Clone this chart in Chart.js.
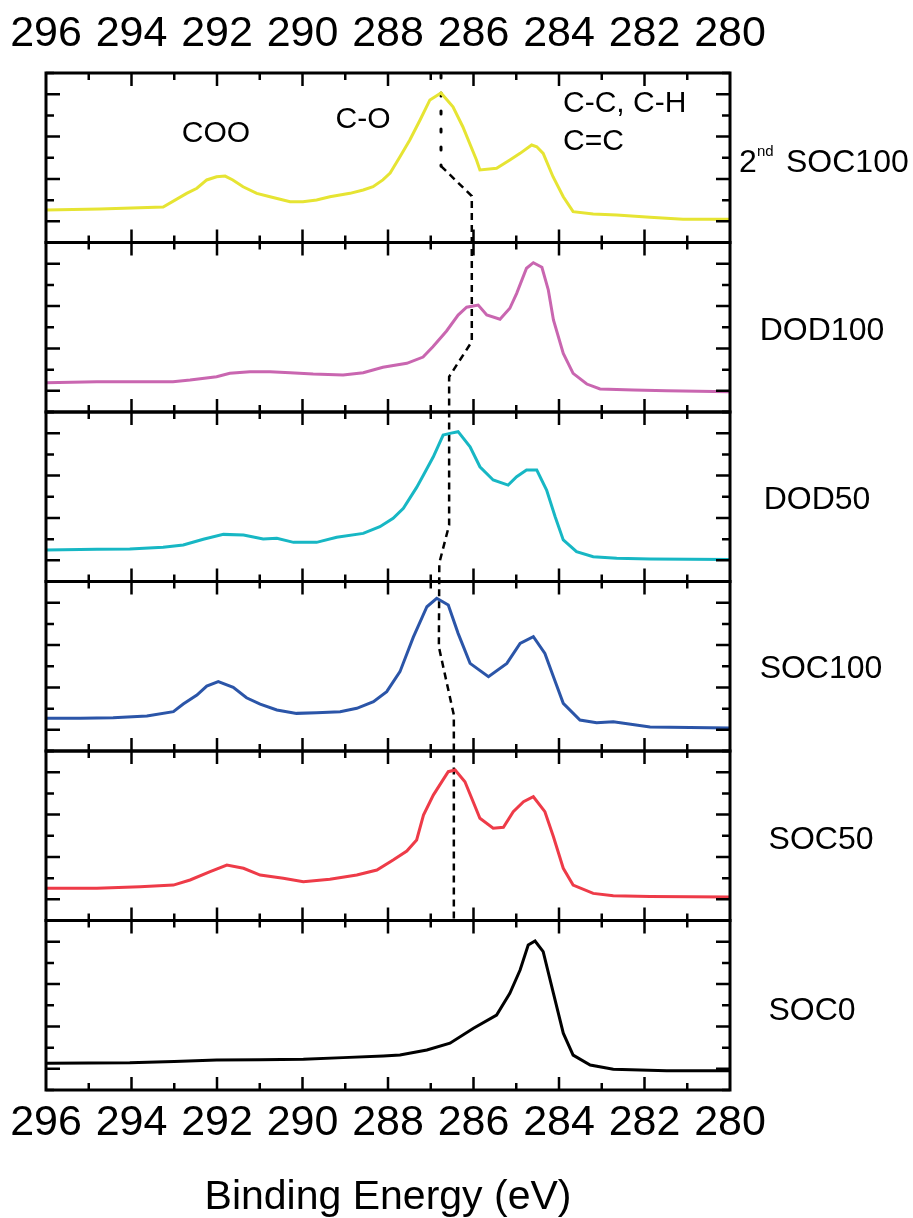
<!DOCTYPE html>
<html>
<head>
<meta charset="utf-8">
<script src="https://cdn.jsdelivr.net/npm/chart.js@4.4.1/dist/chart.umd.min.js"></script>
<style>
  html, body { margin: 0; padding: 0; background: #fff; }
  #wrap { width: 913px; height: 1218px; }
</style>
</head>
<body>
<div id="wrap"><canvas id="c" width="913" height="1218"></canvas></div>
<script>
// ---- Data (binding energy in eV, normalized intensity within each panel) ----
const xTickValues = [296, 294, 292, 290, 288, 286, 284, 282, 280];

const panelNames = ['SOC0', 'SOC50', 'SOC100', 'DOD50', 'DOD100', '2nd SOC100'];

const soc0Energy = [296.0, 295.0, 294.04, 293.0, 292.01, 291.0, 289.98, 289.05, 288.11, 287.72, 287.09, 286.55, 286.0, 285.46, 285.15, 284.91, 284.72, 284.56, 284.37, 284.13, 283.9, 283.67, 283.27, 282.73, 281.48, 280.0];
const soc0Int    = [0.158, 0.160, 0.161, 0.168, 0.177, 0.179, 0.181, 0.191, 0.201, 0.206, 0.236, 0.276, 0.364, 0.442, 0.570, 0.708, 0.855, 0.879, 0.816, 0.570, 0.335, 0.206, 0.147, 0.122, 0.114, 0.114];

const soc50Energy = [296.0, 294.81, 293.8, 293.02, 292.63, 292.16, 291.77, 291.38, 290.99, 290.45, 289.98, 289.36, 288.73, 288.26, 287.88, 287.56, 287.33, 287.17, 286.94, 286.74, 286.59, 286.43, 286.2, 285.85, 285.54, 285.3, 285.07, 284.83, 284.6, 284.33, 284.13, 283.9, 283.67, 283.2, 282.73, 281.87, 280.0];
const soc50Int    = [0.190, 0.190, 0.199, 0.209, 0.239, 0.288, 0.327, 0.308, 0.268, 0.249, 0.229, 0.243, 0.268, 0.298, 0.357, 0.410, 0.475, 0.622, 0.740, 0.819, 0.878, 0.888, 0.819, 0.603, 0.544, 0.550, 0.642, 0.701, 0.730, 0.642, 0.494, 0.308, 0.209, 0.160, 0.146, 0.142, 0.139];

const soc100Energy = [296.0, 295.2, 294.43, 293.64, 293.02, 292.79, 292.47, 292.24, 291.97, 291.62, 291.31, 290.99, 290.6, 290.14, 289.67, 289.12, 288.73, 288.34, 288.03, 287.72, 287.41, 287.09, 286.86, 286.59, 286.36, 286.08, 285.65, 285.22, 284.91, 284.6, 284.33, 284.13, 283.9, 283.51, 283.12, 282.73, 281.87, 280.0];
const soc100Int    = [0.193, 0.193, 0.196, 0.206, 0.232, 0.277, 0.330, 0.383, 0.409, 0.376, 0.314, 0.277, 0.242, 0.222, 0.226, 0.232, 0.252, 0.291, 0.350, 0.468, 0.670, 0.851, 0.901, 0.861, 0.694, 0.517, 0.438, 0.517, 0.635, 0.674, 0.576, 0.438, 0.281, 0.183, 0.167, 0.173, 0.142, 0.136];

const dod50Energy = [296.0, 294.81, 294.04, 293.26, 292.79, 292.32, 291.85, 291.38, 290.92, 290.6, 290.21, 289.67, 289.2, 288.58, 288.19, 287.88, 287.64, 287.33, 287.17, 286.94, 286.71, 286.55, 286.36, 286.08, 285.85, 285.54, 285.19, 284.99, 284.76, 284.52, 284.29, 284.09, 283.9, 283.59, 283.2, 282.65, 281.87, 280.0];
const dod50Int    = [0.186, 0.190, 0.192, 0.202, 0.215, 0.249, 0.278, 0.274, 0.251, 0.255, 0.231, 0.231, 0.261, 0.284, 0.323, 0.373, 0.432, 0.555, 0.628, 0.736, 0.864, 0.874, 0.884, 0.795, 0.677, 0.599, 0.569, 0.618, 0.658, 0.658, 0.540, 0.382, 0.245, 0.176, 0.146, 0.137, 0.133, 0.130];

const dod100Energy = [296.0, 294.81, 293.03, 292.63, 292.01, 291.7, 291.23, 290.76, 290.29, 289.75, 289.05, 288.58, 288.12, 287.56, 287.18, 286.95, 286.63, 286.36, 286.16, 286.01, 285.89, 285.69, 285.38, 285.15, 284.99, 284.76, 284.6, 284.4, 284.25, 284.13, 283.9, 283.67, 283.35, 283.04, 282.26, 281.48, 280.0];
const dod100Int    = [0.173, 0.179, 0.179, 0.189, 0.208, 0.228, 0.238, 0.238, 0.232, 0.224, 0.218, 0.232, 0.264, 0.287, 0.324, 0.385, 0.478, 0.572, 0.618, 0.625, 0.631, 0.572, 0.547, 0.612, 0.700, 0.848, 0.881, 0.854, 0.720, 0.543, 0.346, 0.228, 0.165, 0.136, 0.130, 0.126, 0.120];

const soc100bEnergy = [296.0, 294.74, 293.26, 292.71, 292.47, 292.24, 292.01, 291.81, 291.63, 291.39, 291.07, 290.76, 290.29, 289.99, 289.67, 289.36, 288.89, 288.58, 288.35, 288.12, 287.95, 287.72, 287.49, 287.25, 287.02, 286.76, 286.48, 286.25, 285.93, 285.85, 285.46, 285.15, 284.91, 284.64, 284.52, 284.37, 284.14, 283.9, 283.67, 283.2, 282.65, 281.87, 281.1, 280.0];
const soc100bInt    = [0.192, 0.198, 0.209, 0.290, 0.320, 0.369, 0.388, 0.392, 0.369, 0.329, 0.290, 0.270, 0.241, 0.241, 0.251, 0.270, 0.290, 0.310, 0.329, 0.369, 0.410, 0.506, 0.605, 0.723, 0.841, 0.882, 0.801, 0.683, 0.487, 0.428, 0.438, 0.487, 0.526, 0.575, 0.565, 0.526, 0.388, 0.270, 0.182, 0.168, 0.162, 0.149, 0.137, 0.137];

// Guide line through the C-O peak positions (eV, stacked level)
const dottedEnergy = [286.76, 286.76];
const dottedLevel  = [5.988, 5.451];
const dashedEnergy = [286.76, 286.04, 286.04, 286.57, 286.57, 286.80, 286.81, 286.46, 286.46];
const dashedLevel  = [5.451, 5.274, 4.415, 4.208, 3.333, 3.109, 2.614, 2.212, 1.0];

// ---- Build datasets ----
const seriesList = [
  { e: soc0Energy, v: soc0Int, color: '#000000' },
  { e: soc50Energy, v: soc50Int, color: '#ee3b48' },
  { e: soc100Energy, v: soc100Int, color: '#2b55a8' },
  { e: dod50Energy, v: dod50Int, color: '#17b7c4' },
  { e: dod100Energy, v: dod100Int, color: '#c966b0' },
  { e: soc100bEnergy, v: soc100bInt, color: '#e6e433' }
];
const datasets = seriesList.map((s, i) => ({
  label: panelNames[i],
  data: s.e.map((x, k) => ({ x: x, y: s.v[k] + i })),
  borderColor: s.color,
  borderWidth: 3,
  pointRadius: 0,
  tension: 0,
  fill: false
}));
datasets.push({
  label: 'peak-dotted',
  data: dottedEnergy.map((x, k) => ({ x: x, y: dottedLevel[k] })),
  borderColor: '#000', borderWidth: 3, borderDash: [3, 15], borderCapStyle: 'round',
  pointRadius: 0, tension: 0, fill: false
});
datasets.push({
  label: 'peak-dashed',
  data: dashedEnergy.map((x, k) => ({ x: x, y: dashedLevel[k] })),
  borderColor: '#000', borderWidth: 2.5, borderDash: [7, 5],
  pointRadius: 0, tension: 0, fill: false
});

const labelPos = [
  { t: 'SOC0', x: 812, dy: 6 },
  { t: 'SOC50', x: 821, dy: 4 },
  { t: 'SOC100', x: 821, dy: 3 },
  { t: 'DOD50', x: 817, dy: 3 },
  { t: 'DOD100', x: 822, dy: 4 },
  { t: 'SOC100', x: 848, dy: 5, sup: true }
];

const framePlugin = {
  id: 'frames',
  afterDatasetsDraw(chart) {
    const ctx = chart.ctx;
    const { left, right } = chart.chartArea;
    const xs = chart.scales.x, ys = chart.scales.y;
    ctx.save();
    ctx.strokeStyle = '#000';
    ctx.lineCap = 'butt';
    for (let p = 0; p < 6; p++) {
      const yb = ys.getPixelForValue(p), yt = ys.getPixelForValue(p + 1);
      ctx.lineWidth = 2.5;
      for (let e = 281; e <= 295; e++) {
        const px = xs.getPixelForValue(e);
        const len = e % 2 === 0 ? 13 : 7;
        ctx.beginPath();
        ctx.moveTo(px, yt); ctx.lineTo(px, yt + len);
        ctx.moveTo(px, yb); ctx.lineTo(px, yb - len);
        ctx.stroke();
      }
      for (let k = 0; k <= 8; k++) {
        const py = ys.getPixelForValue(p + k / 8);
        const len = k % 2 === 1 ? 14 : 8;
        ctx.beginPath();
        ctx.moveTo(left, py); ctx.lineTo(left + len, py);
        ctx.moveTo(right, py); ctx.lineTo(right - len, py);
        ctx.stroke();
      }
      ctx.lineWidth = 3;
      ctx.strokeRect(left, yt, right - left, yb - yt);
      // right-hand panel label
      const lp = labelPos[p];
      const cy = (yt + yb) / 2 + lp.dy;
      ctx.fillStyle = '#000';
      ctx.textBaseline = 'middle';
      ctx.font = '32px "Liberation Sans", Arial, sans-serif';
      if (lp.sup) {
        ctx.textAlign = 'left';
        ctx.fillText('2', 739, cy);
        ctx.font = '15px "Liberation Sans", Arial, sans-serif';
        ctx.fillText('nd', 757, cy - 11);
        ctx.font = '32px "Liberation Sans", Arial, sans-serif';
        ctx.fillText(lp.t, 786, cy);
      } else {
        ctx.textAlign = 'center';
        ctx.fillText(lp.t, lp.x, cy);
      }
    }
    // peak assignments in the top panel
    ctx.font = '30px "Liberation Sans", Arial, sans-serif';
    ctx.textBaseline = 'middle';
    ctx.textAlign = 'center';
    ctx.fillText('COO', 216, 134);
    ctx.fillText('C-O', 363, 120);
    ctx.textAlign = 'left';
    ctx.fillText('C-C, C-H', 563, 104);
    ctx.fillText('C=C', 563, 142);
    ctx.restore();
  }
};

const tickFont = { family: '"Liberation Sans Narrow", "Liberation Sans", Arial, sans-serif', size: 43, lineHeight: 1 };

function xAxis(position, height, withTitle) {
  return {
    type: 'linear', position: position, reverse: true, min: 280, max: 296,
    afterBuildTicks: (s) => { s.ticks = xTickValues.map(v => ({ value: v })); },
    afterFit: (s) => { s.height = height; s.paddingLeft = 0; s.paddingRight = 0; },
    ticks: { color: '#000', font: tickFont, padding: position === 'top' ? 17 : 12, maxRotation: 0, autoSkip: false },
    grid: { display: false, drawTicks: false },
    border: { display: false },
    title: withTitle ? {
      display: true, text: 'Binding Energy (eV)', color: '#000',
      font: { family: '"Liberation Sans", Arial, sans-serif', size: 41, lineHeight: 1 },
      padding: { top: 0, bottom: 0 }
    } : { display: false }
  };
}
function yAxis(position, width) {
  return {
    type: 'linear', position: position, min: 0, max: 6,
    afterFit: (s) => { s.width = width; s.paddingTop = 0; s.paddingBottom = 0; },
    ticks: { display: false },
    grid: { display: false, drawTicks: false },
    border: { display: false }
  };
}

new Chart(document.getElementById('c'), {
  type: 'line',
  data: { datasets: datasets },
  options: {
    responsive: false,
    animation: false,
    devicePixelRatio: 1,
    layout: { padding: 0 },
    plugins: { legend: { display: false }, tooltip: { enabled: false } },
    scales: {
      x: xAxis('bottom', 128, true),
      x2: xAxis('top', 73, false),
      y: yAxis('left', 46),
      y2: yAxis('right', 183)
    }
  },
  plugins: [framePlugin]
});
</script>
</body>
</html>
